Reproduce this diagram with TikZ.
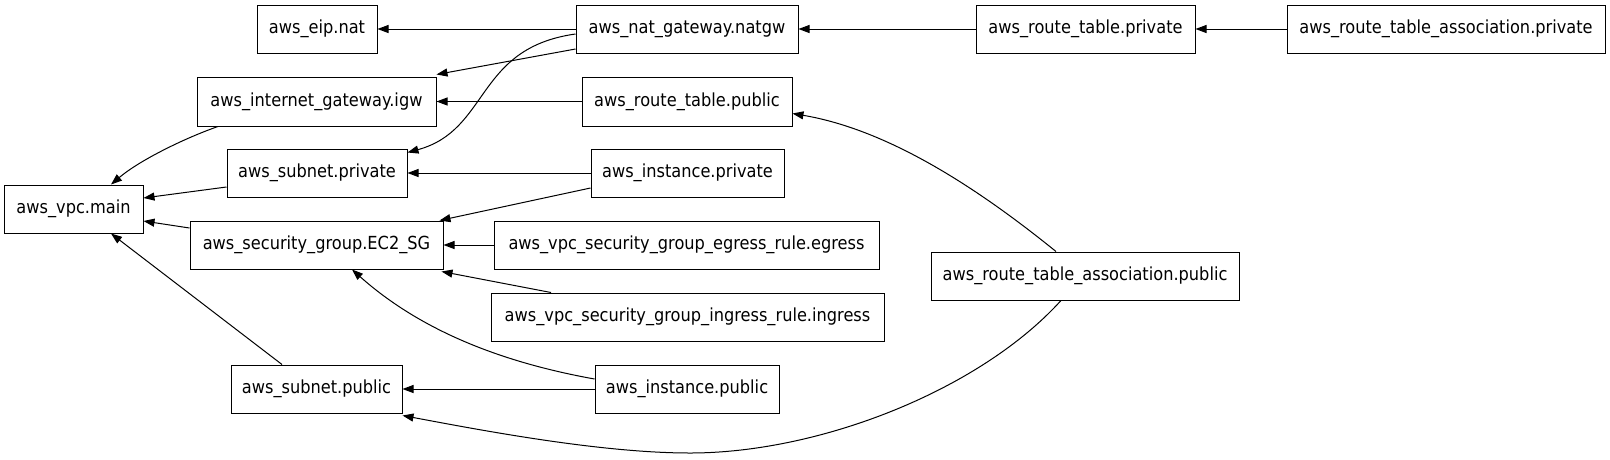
\documentclass[tikz,border=0pt]{standalone}
\usepackage{fontspec}
\setmainfont{DejaVu Sans}[FakeStretch=0.9]
\usetikzlibrary{arrows.meta}
\begin{document}
\begin{tikzpicture}[x=1pt,y=-1pt,
  res/.style={draw=black,line width=1pt,inner sep=0pt,font=\fontsize{18}{20}\selectfont},
  e/.style={draw=black,line width=1pt,-{Triangle[length=11pt,width=8pt]}}]
\useasboundingbox (0,0) rectangle (1610,459);
\node[res,minimum width=139pt,minimum height=48pt] (vpc) at (73.5,209) {aws\_vpc.main};
\node[res,minimum width=120pt,minimum height=48pt] (eip) at (317,29) {aws\_eip.nat};
\node[res,minimum width=239pt,minimum height=49pt] (igw) at (316.5,101.5) {aws\_internet\_gateway.igw};
\node[res,minimum width=180pt,minimum height=48pt] (subpriv) at (317,173) {aws\_subnet.private};
\node[res,minimum width=253pt,minimum height=48pt] (sg) at (316.5,245) {aws\_security\_group.EC2\_SG};
\node[res,minimum width=171pt,minimum height=48pt] (subpub) at (316.5,389) {aws\_subnet.public};
\node[res,minimum width=222pt,minimum height=48pt] (natgw) at (687,29) {aws\_nat\_gateway.natgw};
\node[res,minimum width=210pt,minimum height=49pt] (rtpub) at (687,101.5) {aws\_route\_table.public};
\node[res,minimum width=193pt,minimum height=48pt] (instpriv) at (687.5,173) {aws\_instance.private};
\node[res,minimum width=385pt,minimum height=48pt] (egress) at (686.5,245) {aws\_vpc\_security\_group\_egress\_rule.egress};
\node[res,minimum width=393pt,minimum height=48pt] (ingress) at (687.5,317) {aws\_vpc\_security\_group\_ingress\_rule.ingress};
\node[res,minimum width=184pt,minimum height=48pt] (instpub) at (687,389) {aws\_instance.public};
\node[res,minimum width=219pt,minimum height=48pt] (rtpriv) at (1085.5,29) {aws\_route\_table.private};
\node[res,minimum width=308pt,minimum height=48pt] (rtapub) at (1085,276) {aws\_route\_table\_association.public};
\node[res,minimum width=318pt,minimum height=48pt] (rtapriv) at (1446,29) {aws\_route\_table\_association.private};
\coordinate (low) at (690,453);

\draw[e] (natgw.west) -- (eip.east);
\draw[e] ([yshift=-20pt]natgw.west) -- ([yshift=2pt]igw.north east);
\draw[e] ([yshift=-5pt]natgw.west) .. controls (475,48) and (490,130) .. ([yshift=-4pt]subpriv.north east);
\draw[e] (rtpub.west) -- (igw.east);
\draw[e] (rtpriv.west) -- (natgw.east);
\draw[e] (rtapriv.west) -- (rtpriv.east);
\draw[e] ([xshift=-29pt]rtapub.north) .. controls (980,190) and (890,130) .. ([yshift=-12pt]rtpub.east);
\draw[e] ([xshift=-24pt]rtapub.south) .. controls (980,390) and (820,453) .. (low)
  .. controls (600,453) and (480,430) .. ([yshift=-2pt]subpub.south east);
\draw[e] ([xshift=-98.5pt]igw.south) .. controls (185,138) and (140,160) .. ([xshift=37.5pt]vpc.north);
\draw[e] ([yshift=-14pt]subpriv.west) -- ([yshift=11pt]vpc.east);
\draw[e] ([yshift=17pt]sg.west) -- ([yshift=-12pt]vpc.east);
\draw[e] ([xshift=-34.5pt]subpub.north) -- ([xshift=37.5pt]vpc.south);
\draw[e] (instpriv.west) -- (subpriv.east);
\draw[e] ([yshift=-15pt]instpriv.west) -- ([xshift=-4pt]sg.north east);
\draw[e] (egress.west) -- (sg.east);
\draw[e] ([xshift=-136.5pt]ingress.north) -- ([xshift=-2pt,yshift=-2pt]sg.south east);
\draw[e] ([yshift=10pt]instpub.west) .. controls (500,362) and (420,330) .. ([xshift=35.5pt]sg.south);
\draw[e] (instpub.west) -- (subpub.east);
\end{tikzpicture}
\end{document}
